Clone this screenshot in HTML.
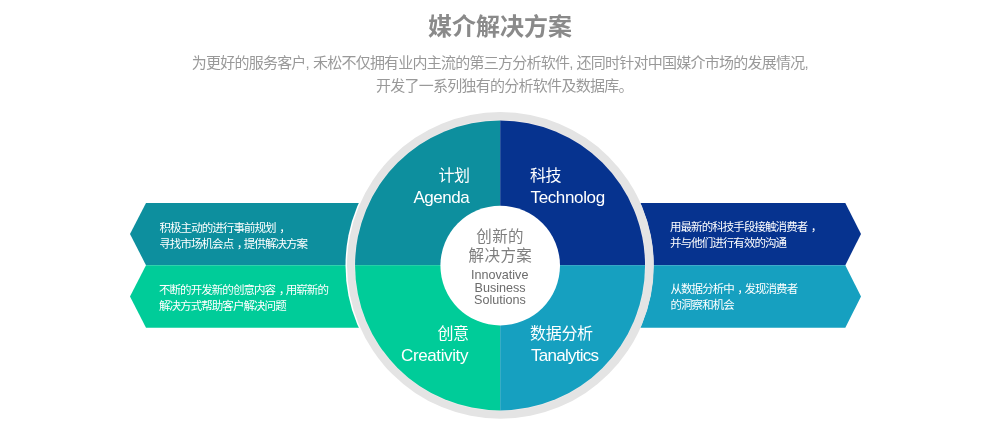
<!DOCTYPE html>
<html lang="zh-CN">
<head>
<meta charset="utf-8">
<title>媒介解决方案</title>
<style>
*{margin:0;padding:0;box-sizing:border-box}
html,body{width:1000px;height:430px;background:#fff;overflow:hidden}
body{position:relative;font-family:"Liberation Sans","Noto Sans CJK SC",sans-serif}
.wrap{position:absolute;left:0;top:0;width:1000px;height:430px;overflow:hidden;will-change:transform}
svg.bg{position:absolute;left:0;top:0}
.t{position:absolute;white-space:nowrap;line-height:1}
h2.t{font-size:24px;font-weight:bold;color:#8a8a8a;letter-spacing:0}
.sub{font-size:15px;color:#999;letter-spacing:-0.76px;word-spacing:0.5px}
.q{color:#fff;font-size:17px}
.qc{color:#fff;font-size:16px;letter-spacing:-0.5px}
.d{color:#fff;font-size:11.5px;letter-spacing:-0.94px}
.cm{position:relative;left:3.5px}
.cb{color:#7e7e7e;font-size:15.5px;letter-spacing:0.4px}
.ci{color:#6c6c6c;font-size:12.6px}
</style>
</head>
<body>
<div class="wrap">
<svg class="bg" width="1000" height="430" viewBox="0 0 1000 430">
  <polygon points="130,234 146,203 500,203 500,265.2 146,265.2" fill="#0d8f9e"/>
  <polygon points="130,296.5 146,265.2 500,265.2 500,327.8 146,327.8" fill="#00cc99"/>
  <polygon points="500,203 845.3,203 861,234 845.3,265.2 500,265.2" fill="#06338f"/>
  <polygon points="500,265.2 845.3,265.2 861,296.5 845.3,327.8 500,327.8" fill="#16a0c0"/>
  <circle cx="499.5" cy="265.4" r="154" fill="#fff"/>
  <circle cx="500.4" cy="265.4" r="153.4" fill="#e4e4e4"/>
  <circle cx="500.05" cy="265.4" r="145.6" fill="#efeaea"/>
  <clipPath id="cc"><circle cx="500.05" cy="265.4" r="145"/></clipPath>
  <g clip-path="url(#cc)">
    <rect x="350" y="115" width="150.2" height="150.2" fill="#0d8f9e"/>
    <rect x="500.2" y="115" width="150" height="150.2" fill="#06338f"/>
    <rect x="350" y="265.2" width="150.2" height="150" fill="#00cc99"/>
    <rect x="500.2" y="265.2" width="150" height="150" fill="#16a0c0"/>
  </g>
  <circle cx="500.2" cy="265.6" r="59.8" fill="#fff"/>
</svg>
<h2 class="t" id="title" style="left:428px;top:15px">媒介解决方案</h2>
<p class="t sub" id="s1" style="left:191.7px;top:55px">为更好的服务客户, 禾松不仅拥有业内主流的第三方分析软件, 还同时针对中国媒介市场的发展情况,</p>
<p class="t sub" id="s2" style="left:376px;top:78px;letter-spacing:-0.74px">开发了一系列独有的分析软件及数据库。</p>

<div class="t qc" id="q1c" style="left:438.4px;top:168.4px">计划</div>
<div class="t q" id="q1e" style="left:413.4px;top:189px;letter-spacing:-0.45px">Agenda</div>
<div class="t qc" id="q2c" style="left:530px;top:168.2px">科技</div>
<div class="t q" id="q2e" style="left:530.5px;top:189px;letter-spacing:-0.36px">Technolog</div>
<div class="t qc" id="q3c" style="left:437.5px;top:326px">创意</div>
<div class="t q" id="q3e" style="left:401px;top:347px;letter-spacing:-0.38px">Creativity</div>
<div class="t qc" id="q4c" style="left:530px;top:325.8px;letter-spacing:-0.3px">数据分析</div>
<div class="t q" id="q4e" style="left:531px;top:347px;letter-spacing:-0.73px">Tanalytics</div>

<div class="t d" id="d1a" style="left:159.5px;top:223px">积极主动的进行事前规划<span class="cm">，</span></div>
<div class="t d" id="d1b" style="left:159.3px;top:239px">寻找市场机会点<span class="cm">，</span>提供解决方案</div>
<div class="t d" id="d2a" style="left:159px;top:284.5px">不断的开发新的创意内容<span class="cm">，</span>用崭新的</div>
<div class="t d" id="d2b" style="left:159px;top:300.5px">解决方式帮助客户解决问题</div>
<div class="t d" id="d3a" style="left:670px;top:222px">用最新的科技手段接触消费者<span class="cm">，</span></div>
<div class="t d" id="d3b" style="left:670px;top:238px">并与他们进行有效的沟通</div>
<div class="t d" id="d4a" style="left:670.5px;top:284.2px">从数据分析中<span class="cm">，</span>发现消费者</div>
<div class="t d" id="d4b" style="left:670.5px;top:300.4px">的洞察和机会</div>

<div class="t cb" id="c1" style="left:476.3px;top:229px">创新的</div>
<div class="t cb" id="c2" style="left:468.6px;top:248px">解决方案</div>
<div class="t ci" id="c3" style="left:471px;top:269px">Innovative</div>
<div class="t ci" id="c4" style="left:474.5px;top:282px">Business</div>
<div class="t ci" id="c5" style="left:474px;top:294px">Solutions</div>
</div>
</body>
</html>
